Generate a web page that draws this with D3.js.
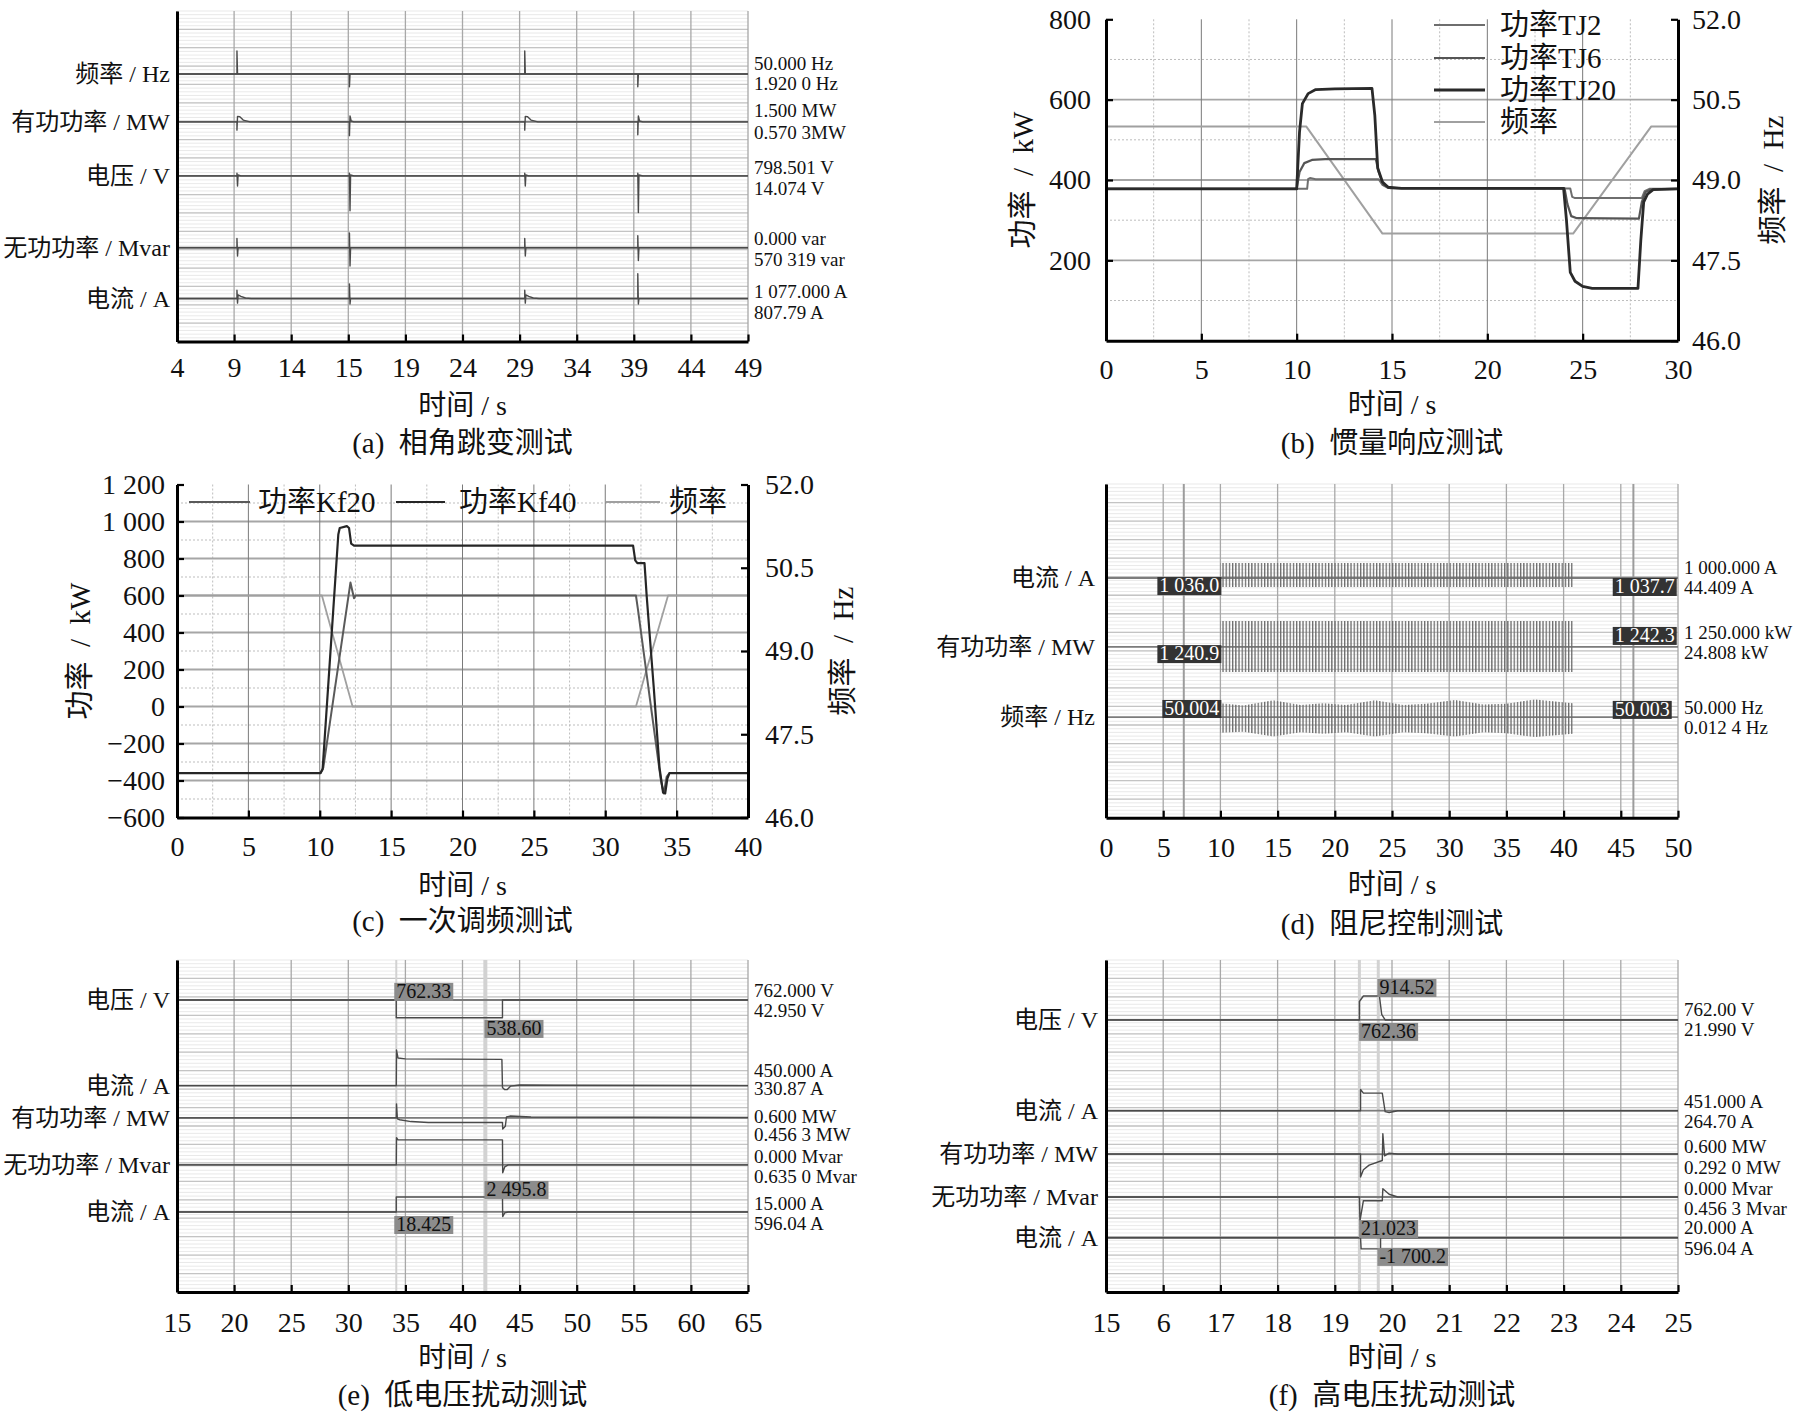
<!DOCTYPE html>
<html>
<head>
<meta charset="utf-8">
<script src="https://cdn.jsdelivr.net/npm/d3@7"></script>
<style>
body { margin: 0; background: #fff; }
svg { display: block; font-family: "Liberation Serif", "Noto Sans CJK SC", serif; }
</style>
</head>
<body>
<svg id="chart" width="1800" height="1413"></svg>
<script>
/* ---------- (a) 相角跳变测试 ---------- */
var aTickLabels = ["4", "9", "14", "15", "19", "24", "29", "34", "39", "44", "49"];
var aChannels = ["频率 / Hz", "有功功率 / MW", "电压 / V", "无功功率 / Mvar", "电流 / A"];
var aOffsets = [14.57, 11.96, 9.02, 5.11, 2.34];   // channel zero, in divisions
var aScales = [["50.000 Hz", "1.920 0 Hz"], ["1.500 MW", "0.570 3MW"], ["798.501 V", "14.074 V"],
               ["0.000 var", "570 319 var"], ["1 077.000 A", "807.79 A"]];
var aFreq = [[4,0],[9.25,0],[9.25,1.25],[9.3,0],[19.1,0],[19.1,-0.7],[19.15,0],[34.45,0],[34.45,1.25],[34.5,0],
             [44.35,0],[44.35,-0.7],[44.4,0],[54,0]];
var aPower = [[4,0],[9.25,0],[9.25,-0.45],[9.3,0.3],[9.5,0.28],[9.8,0.1],[10.4,0],[19.1,0],[19.1,-0.75],[19.15,0.33],
              [19.25,0.05],[19.5,0],[34.45,0],[34.45,-0.45],[34.5,0.3],[34.7,0.28],[35,0.1],[35.6,0],[44.35,0],
              [44.35,-0.7],[44.4,0.33],[44.5,0.05],[44.8,0],[54,0]];
var aVolt = [[4,0],[9.25,0],[9.25,0.15],[9.3,-0.55],[9.35,0.05],[9.6,0],[19.1,0],[19.1,0.15],[19.15,-1.9],[19.2,0.05],
             [19.5,0],[34.45,0],[34.45,0.15],[34.5,-0.55],[34.55,0.05],[34.8,0],[44.35,0],[44.35,0.15],[44.4,-2.0],
             [44.45,0.05],[44.8,0],[54,0]];
var aReact = [[4,0],[9.25,0],[9.25,0.5],[9.3,-0.45],[9.35,0],[19.1,0],[19.1,0.8],[19.15,-1.0],[19.2,0],[34.45,0],
              [34.45,0.5],[34.5,-0.45],[34.55,0],[44.35,0],[44.35,0.65],[44.4,-0.7],[44.45,0],[54,0]];
var aCurr = [[4,0],[9.25,0],[9.25,0.45],[9.3,-0.25],[9.35,0.2],[9.6,0.12],[10,0.03],[10.5,0],[19.1,0],[19.1,0.8],
             [19.15,-0.3],[19.2,0],[34.45,0],[34.45,0.45],[34.5,-0.25],[34.55,0.2],[34.8,0.12],[35.2,0.03],[35.7,0],
             [44.35,0],[44.35,1.35],[44.4,-0.3],[44.45,0],[54,0]];

/* ---------- (b) 惯量响应测试 ---------- */
var bTickLabels = ["0", "5", "10", "15", "20", "25", "30"];
var bPowerTicks = [200, 400, 600, 800];
var bFreqTicks = [46, 47.5, 49, 50.5, 52];
var bFreqLabels = ["46.0", "47.5", "49.0", "50.5", "52.0"];
var bNames = ["功率TJ2", "功率TJ6", "功率TJ20", "频率"];
var bTJ2 = [[0,378],[10.55,378],[10.6,402],[10.7,405],[11,402],[14.3,402],[14.5,388],[14.8,380],[24.35,379],
            [24.45,358],[24.6,355],[28.1,355],[28.25,372],[28.5,378],[30,378]];
var bTJ6 = [[0,378],[10.0,378],[10.15,420],[10.4,442],[10.8,450],[11.5,452],[14.15,452],[14.3,420],[14.55,388],
            [14.9,380],[24.05,379],[24.2,340],[24.4,310],[24.7,305],[27.95,304],[28.1,345],[28.3,370],[28.6,377],[30,378]];
var bTJ20 = [[0,378],[10.0,378],[10.15,520],[10.3,590],[10.6,615],[11.0,625],[12,627],[13.95,628],[14.1,560],
             [14.25,430],[14.5,395],[14.8,382],[15.5,379],[24.0,379],[24.15,300],[24.35,170],[24.6,148],[25.0,135],
             [25.5,130],[27.9,130],[28.05,250],[28.2,345],[28.4,365],[28.7,376],[30,378]];
var bFreq = [[0,50.0],[10.5,50.0],[14.5,48.0],[24.5,48.0],[28.6,50.0],[30,50.0]];

/* ---------- (c) 一次调频测试 ---------- */
var cTickLabels = ["0", "5", "10", "15", "20", "25", "30", "35", "40"];
var cPowerTicks = [-600, -400, -200, 0, 200, 400, 600, 800, 1000, 1200];
var cPowerLabels = ["\u2212600", "\u2212400", "\u2212200", "0", "200", "400", "600", "800", "1 000", "1 200"];
var cFreqTicks = [46, 47.5, 49, 50.5, 52];
var cFreqLabels = ["46.0", "47.5", "49.0", "50.5", "52.0"];
var cNames = ["功率Kf20", "功率Kf40", "频率"];
var cKf20 = [[0,-360],[10.05,-360],[10.25,-330],[12.15,670],[12.4,585],[12.5,600],[32.15,600],[32.3,520],[33.2,0],
             [33.9,-400],[34.1,-470],[34.3,-380],[34.5,-360],[40,-360]];
var cKf40 = [[0,-360],[10.05,-360],[10.2,-340],[11.3,930],[11.4,965],[11.9,975],[12.05,965],[12.2,880],[12.4,870],
             [31.95,870],[32.1,790],[32.25,775],[32.75,775],[32.9,600],[33.4,100],[33.8,-330],[34.05,-465],
             [34.2,-470],[34.35,-390],[34.5,-360],[40,-360]];
var cFreq = [[0,50],[10.15,50],[12.3,48],[32.15,48],[34.4,50],[40,50]];

/* ---------- (d) 阻尼控制测试 ---------- */
var dTickLabels = ["0", "5", "10", "15", "20", "25", "30", "35", "40", "45", "50"];
var dChannels = ["电流 / A", "有功功率 / MW", "频率 / Hz"];
var dOffsets = [12.93, 9.21, 5.43];
var dScales = [["1 000.000 A", "44.409 A"], ["1 250.000 kW", "24.808 kW"], ["50.000 Hz", "0.012 4 Hz"]];
// oscillation envelopes: [t, upper, lower] in divisions around the channel zero
var dCurrBand = [[10.0,0.81,-0.49],[40.8,0.81,-0.49]];
var dPowerBand = [[10.0,1.4,-1.35],[40.8,1.4,-1.35]];
var dFreqBand = [[10.0,0.75,-0.85],[12.0,0.62,-0.8],[14.6,0.9,-1.05],[17.0,0.65,-0.82],[19.0,0.75,-0.9],
                 [21.0,0.65,-0.82],[23.5,0.9,-1.05],[26.0,0.65,-0.82],[28.0,0.72,-0.88],[30.5,0.92,-1.05],
                 [33.0,0.68,-0.82],[35.0,0.72,-0.88],[37.5,0.95,-1.08],[40.8,0.75,-0.9]];
var dCursors = [6.8, 46.1];
var dMarkers = [["1 036.0", 9.91, 12.98, "end"], ["1 037.7", 44.47, 12.93, "start"],
                ["1 240.9", 9.91, 9.31, "end"], ["1 242.3", 44.47, 10.29, "start"],
                ["50.004", 9.91, 6.35, "end"], ["50.003", 44.47, 6.3, "start"]];

/* ---------- (e) 低电压扰动测试 ---------- */
var eTickLabels = ["15", "20", "25", "30", "35", "40", "45", "50", "55", "60", "65"];
var eChannels = ["电压 / V", "电流 / A", "有功功率 / MW", "无功功率 / Mvar", "电流 / A"];
var eOffsets = [15.83, 11.19, 9.44, 6.89, 4.34];
var eScales = [["762.000 V", "42.950 V"], ["450.000 A", "330.87 A"], ["0.600 MW", "0.456 3 MW"],
               ["0.000 Mvar", "0.635 0 Mvar"], ["15.000 A", "596.04 A"]];
var eVolt = [[15,0],[34.2,0],[34.2,-0.96],[43.5,-0.96],[43.5,0],[65,0]];
var eCurr = [[15,0],[34.2,0],[34.22,1.93],[34.35,1.5],[35,1.45],[43.45,1.42],[43.5,-0.1],[43.7,-0.22],[43.9,-0.22],
             [44.2,-0.03],[45,0.03],[48,0.02],[65,0]];
var ePower = [[15,0],[34.2,0],[34.22,0.76],[34.3,-0.05],[34.5,-0.1],[35.5,-0.2],[37,-0.25],[43.5,-0.25],[43.52,-0.6],
              [43.75,-0.45],[43.85,0.05],[44.2,0.1],[46,0.05],[65,0.02]];
var eReact = [[15,0],[34.2,0],[34.22,1.48],[34.35,1.36],[43.5,1.36],[43.52,-0.43],[43.7,-0.1],[44,0],[65,0]];
var eCurr2 = [[15,0],[34.2,0],[34.2,0.81],[43.5,0.81],[43.52,-0.25],[43.7,-0.05],[44,0],[65,0]];
var eCursors = [34.2, 42.0];
var eMarkers = [["762.33", 34.2, 16.76, "start"], ["538.60", 42.1, 14.75, "start"],
                ["2 495.8", 42.1, 6.02, "start"], ["18.425", 34.2, 4.12, "start"]];

/* ---------- (f) 高电压扰动测试 ---------- */
var fTickLabels = ["15", "6", "17", "18", "19", "20", "21", "22", "23", "24", "25"];
var fChannels = ["电压 / V", "电流 / A", "有功功率 / MW", "无功功率 / Mvar", "电流 / A"];
var fOffsets = [14.75, 9.83, 7.48, 5.15, 2.94];
var fScales = [["762.00 V", "21.990 V"], ["451.000 A", "264.70 A"], ["0.600 MW", "0.292 0 MW"],
               ["0.000 Mvar", "0.456 3 Mvar"], ["20.000 A", "596.04 A"]];
var fVolt = [[15,0],[19.43,0],[19.43,1.0],[19.5,1.3],[19.78,1.3],[19.82,0.3],[19.88,0],[25,0]];
var fCurr = [[15,0],[19.45,0],[19.45,1.15],[19.5,0.95],[19.83,0.95],[19.88,-0.05],[19.95,-0.1],[20.1,0],[25,0]];
var fPower = [[15,0],[19.45,0],[19.45,-1.25],[19.5,-0.85],[19.6,-0.6],[19.83,-0.35],[19.84,1.1],[19.87,-0.1],
              [19.95,0.05],[20.1,0],[25,0]];
var fReact = [[15,0],[19.43,0],[19.44,-1.3],[19.5,-0.2],[19.83,-0.2],[19.84,0.45],[19.95,0.15],[20.1,0],[25,0]];
var fCurr2 = [[15,0],[19.45,0],[19.46,-0.6],[19.8,-0.6],[19.8,0],[25,0]];
var fCursors = [19.43, 19.76];
var fMarkers = [["914.52", 19.78, 16.97, "start"], ["762.36", 19.46, 14.59, "start"],
                ["21.023", 19.46, 3.9, "start"], ["-1 700.2", 19.78, 2.39, "start"]];

var svg = d3.select("#chart");
var defs = svg.append("defs");
var pat = defs.append("pattern").attr("id", "osc").attr("patternUnits", "userSpaceOnUse")
    .attr("width", 3.2).attr("height", 10);
pat.append("rect").attr("width", 1.3).attr("height", 10).attr("fill", "#6a6a6a");

function styleAxis(ax, size) {
  ax.attr("font-size", null).attr("font-family", null);
  ax.select(".domain").attr("stroke", "#000").attr("stroke-width", 3);
  ax.selectAll(".tick line").attr("stroke", "#000").attr("stroke-width", 2.2);
  ax.selectAll(".tick text").attr("font-size", size).attr("fill", "#111");
}

function bottomText(cfg) {
  var cx = (cfg.left + cfg.right) / 2;
  svg.append("text").attr("x", cx).attr("y", cfg.bottom + cfg.xlabelDy).attr("text-anchor", "middle")
    .attr("dominant-baseline", "central").attr("font-size", 28).attr("fill", "#111").text("时间 / s");
  svg.append("text").attr("x", cx).attr("y", cfg.bottom + cfg.captionDy).attr("text-anchor", "middle")
    .attr("dominant-baseline", "central").attr("font-size", 29).attr("fill", "#111")
    .attr("xml:space", "preserve").text(cfg.caption);
}

// oscilloscope-style panel: stacked channels on a division grid
function scope(cfg) {
  var g = svg.append("g");
  var x = d3.scaleLinear().domain(cfg.xDomain).range([cfg.left, cfg.right]);
  var y = d3.scaleLinear().domain([0, 18]).range([cfg.bottom, cfg.top]);

  g.selectAll(null).data(d3.range(0, 90.5).map(function(i) { return i * 0.2; })).join("line")
    .attr("x1", cfg.left).attr("x2", cfg.right).attr("y1", y).attr("y2", y)
    .attr("stroke", "#e3e3e3").attr("stroke-width", 0.8);
  g.selectAll(null).data(d3.range(1, 18)).join("line")
    .attr("x1", cfg.left).attr("x2", cfg.right).attr("y1", y).attr("y2", y)
    .attr("stroke", "#c4c4c4").attr("stroke-width", 1.3);
  g.selectAll(null).data(cfg.ticks).join("line")
    .attr("x1", x).attr("x2", x).attr("y1", cfg.top).attr("y2", cfg.bottom)
    .attr("stroke", "#a8a8a8").attr("stroke-width", 1.3);

  g.selectAll(null).data(cfg.cursors).join("line")
    .attr("x1", x).attr("x2", x).attr("y1", cfg.top).attr("y2", cfg.bottom)
    .attr("stroke", cfg.cursorColor).attr("stroke-width", function(d, i) { return cfg.cursorWidth[i]; });

  g.selectAll(null).data(cfg.offsets).join("line")
    .attr("x1", cfg.left).attr("x2", cfg.right).attr("y1", y).attr("y2", y)
    .attr("stroke", "#7c7c7c").attr("stroke-width", 1.8);

  (cfg.bands || []).forEach(function(b) {
    var off = cfg.offsets[b.ch];
    g.append("path").datum(b.data).attr("fill", "url(#osc)")
      .attr("d", d3.area().x(function(d) { return x(d[0]); })
        .y0(function(d) { return y(off + d[2]); }).y1(function(d) { return y(off + d[1]); }));
  });

  (cfg.traces || []).forEach(function(tr, i) {
    var off = cfg.offsets[i];
    g.append("path").datum(tr).attr("fill", "none").attr("stroke", "#4a4a4a").attr("stroke-width", 1.4)
      .attr("stroke-linejoin", "round")
      .attr("d", d3.line().x(function(d) { return x(d[0]); }).y(function(d) { return y(off + d[1]); }));
  });

  (cfg.markers || []).forEach(function(m) {
    var top = y(m[2]);
    var t = g.append("text").attr("x", x(m[1])).attr("y", top + 15).attr("text-anchor", m[3])
      .attr("font-size", 20).attr("fill", cfg.markerText).attr("xml:space", "preserve").text(m[0]);
    var w = t.node().getComputedTextLength();
    var x0 = m[3] === "end" ? x(m[1]) - w - 2 : x(m[1]) - 2;
    g.insert("rect", function() { return t.node(); }).attr("x", x0).attr("y", top)
      .attr("width", w + 4).attr("height", 18).attr("fill", cfg.markerFill);
  });

  var ax = g.append("g").attr("transform", "translate(0," + cfg.bottom + ")")
    .call(d3.axisBottom(x).tickValues(cfg.ticks).tickFormat(function(d, i) { return cfg.tickLabels[i]; })
      .tickSizeInner(-7).tickSizeOuter(0).tickPadding(cfg.tickPad));
  styleAxis(ax, 28);
  var ay = g.append("g").attr("transform", "translate(" + cfg.left + ",0)")
    .call(d3.axisLeft(y).tickValues([]).tickSizeOuter(0));
  styleAxis(ay, 28);

  g.selectAll(null).data(cfg.channels).join("text")
    .attr("x", cfg.left - cfg.labelGap).attr("y", function(d, i) { return y(cfg.offsets[i]); })
    .attr("text-anchor", "end").attr("dominant-baseline", "central").attr("font-size", 24).attr("fill", "#111")
    .text(function(d) { return d; });
  cfg.scales.forEach(function(s, i) {
    var yy = y(cfg.offsets[i]), dy = cfg.scaleDy[i];
    g.append("text").attr("x", cfg.right + 6).attr("y", yy + dy[0]).attr("dominant-baseline", "central")
      .attr("font-size", 19).attr("fill", "#111").text(s[0]);
    g.append("text").attr("x", cfg.right + 6).attr("y", yy + dy[1]).attr("dominant-baseline", "central")
      .attr("font-size", 19).attr("fill", "#111").text(s[1]);
  });
  bottomText(cfg);
}

// dual-axis line chart
function dual(cfg) {
  var g = svg.append("g");
  var x = d3.scaleLinear().domain(cfg.xDomain).range([cfg.left, cfg.right]);
  var yL = d3.scaleLinear().domain(cfg.yLDomain).range([cfg.bottom, cfg.top]);
  var yR = d3.scaleLinear().domain(cfg.yRDomain).range([cfg.bottom, cfg.top]);

  g.selectAll(null).data(cfg.yDotted).join("line")
    .attr("x1", cfg.left).attr("x2", cfg.right).attr("y1", yL).attr("y2", yL)
    .attr("stroke", "#bdbdbd").attr("stroke-width", 1).attr("stroke-dasharray", "2,2");
  g.selectAll(null).data(cfg.xDotted).join("line")
    .attr("x1", x).attr("x2", x).attr("y1", cfg.top).attr("y2", cfg.bottom)
    .attr("stroke", "#bdbdbd").attr("stroke-width", 1).attr("stroke-dasharray", "2,2");
  g.selectAll(null).data(cfg.ySolid).join("line")
    .attr("x1", cfg.left).attr("x2", cfg.right).attr("y1", yL).attr("y2", yL)
    .attr("stroke", "#a6a6a6").attr("stroke-width", 1.8);
  g.selectAll(null).data(cfg.xSolid).join("line")
    .attr("x1", x).attr("x2", x).attr("y1", cfg.top).attr("y2", cfg.bottom)
    .attr("stroke", "#7a7a7a").attr("stroke-width", 1);

  cfg.series.forEach(function(s) {
    var sc = s.right ? yR : yL;
    g.append("path").datum(s.data).attr("fill", "none").attr("stroke", s.color).attr("stroke-width", s.width)
      .attr("stroke-linejoin", "round")
      .attr("d", d3.line().x(function(d) { return x(d[0]); }).y(function(d) { return sc(d[1]); }));
  });

  var ax = g.append("g").attr("transform", "translate(0," + cfg.bottom + ")")
    .call(d3.axisBottom(x).tickValues(cfg.xTicks).tickFormat(function(d, i) { return cfg.xLabels[i]; })
      .tickSizeInner(-7).tickSizeOuter(0).tickPadding(cfg.tickPad));
  styleAxis(ax, 28);
  var al = g.append("g").attr("transform", "translate(" + cfg.left + ",0)")
    .call(d3.axisLeft(yL).tickValues(cfg.yLTicks).tickFormat(function(d, i) { return cfg.yLLabels[i]; })
      .tickSizeInner(-7).tickSizeOuter(0).tickPadding(cfg.yLPad));
  styleAxis(al, 28);
  var ar = g.append("g").attr("transform", "translate(" + cfg.right + ",0)")
    .call(d3.axisRight(yR).tickValues(cfg.yRTicks).tickFormat(function(d, i) { return cfg.yRLabels[i]; })
      .tickSizeInner(-7).tickSizeOuter(0).tickPadding(cfg.yRPad));
  styleAxis(ar, 28);

  var cy = (cfg.top + cfg.bottom) / 2;
  g.append("text").attr("transform", "translate(" + cfg.yLTitleX + "," + cy + ") rotate(-90)")
    .attr("text-anchor", "middle").attr("dominant-baseline", "central").attr("font-size", 29)
    .attr("fill", "#111").attr("xml:space", "preserve").text("功率  /  kW");
  g.append("text").attr("transform", "translate(" + cfg.yRTitleX + "," + cy + ") rotate(-90)")
    .attr("text-anchor", "middle").attr("dominant-baseline", "central").attr("font-size", 29)
    .attr("fill", "#111").attr("xml:space", "preserve").text("频率  /  Hz");

  cfg.legend.forEach(function(l) {
    g.append("line").attr("x1", l.x1).attr("x2", l.x2).attr("y1", l.y).attr("y2", l.y)
      .attr("stroke", l.s.color).attr("stroke-width", l.s.width);
    g.append("text").attr("x", l.tx).attr("y", l.y).attr("dominant-baseline", "central")
      .attr("font-size", 29).attr("fill", "#111").text(l.s.name);
  });
  bottomText(cfg);
}

var LEFT = [177, 748], RIGHT = [1106, 1678];

scope({
  left: LEFT[0], right: LEFT[1], top: 11, bottom: 341.5, xDomain: [4, 54],
  ticks: d3.range(4, 55, 5), tickLabels: aTickLabels, tickPad: 16,
  channels: aChannels, offsets: aOffsets, scales: aScales, labelGap: 7,
  scaleDy: [[-10, 10], [-11, 11], [-8, 13], [-9, 12], [-7, 14]],
  traces: [aFreq, aPower, aVolt, aReact, aCurr], cursors: [], cursorWidth: [], cursorColor: "#ccc",
  xlabelDy: 64, captionDy: 101, caption: "(a)  相角跳变测试"
});

var bSeries = [
  { name: bNames[0], data: bTJ2, color: "#6e6e6e", width: 2 },
  { name: bNames[1], data: bTJ6, color: "#555555", width: 2.2 },
  { name: bNames[2], data: bTJ20, color: "#2a2a2a", width: 2.8 },
  { name: bNames[3], data: bFreq, color: "#a0a0a0", width: 2, right: true }
];
dual({
  left: RIGHT[0], right: RIGHT[1], top: 19.3, bottom: 340.7,
  xDomain: [0, 30], yLDomain: [0, 800], yRDomain: [46, 52],
  xTicks: d3.range(0, 31, 5), xLabels: bTickLabels, tickPad: 18,
  yLTicks: bPowerTicks, yLLabels: bPowerTicks.map(String), yLPad: 15,
  yRTicks: bFreqTicks, yRLabels: bFreqLabels, yRPad: 14,
  ySolid: [200, 400, 600], yDotted: [100, 300, 500, 700],
  xSolid: [5, 10, 15, 20, 25], xDotted: [2.5, 7.5, 12.5, 17.5, 22.5, 27.5],
  series: [bSeries[3], bSeries[0], bSeries[1], bSeries[2]],
  yLTitleX: 1023, yRTitleX: 1773,
  legend: [
    { s: bSeries[0], x1: 1434, x2: 1485, tx: 1500, y: 25 },
    { s: bSeries[1], x1: 1434, x2: 1485, tx: 1500, y: 58 },
    { s: bSeries[2], x1: 1434, x2: 1485, tx: 1500, y: 90 },
    { s: bSeries[3], x1: 1434, x2: 1485, tx: 1500, y: 122 }
  ],
  xlabelDy: 64, captionDy: 102, caption: "(b)  惯量响应测试"
});

var cSeries = [
  { name: cNames[0], data: cKf20, color: "#5a5a5a", width: 2 },
  { name: cNames[1], data: cKf40, color: "#262626", width: 2.2 },
  { name: cNames[2], data: cFreq, color: "#a0a0a0", width: 1.8, right: true }
];
dual({
  left: LEFT[0], right: LEFT[1], top: 484.5, bottom: 817.5,
  xDomain: [0, 40], yLDomain: [-600, 1200], yRDomain: [46, 52],
  xTicks: d3.range(0, 41, 5), xLabels: cTickLabels, tickPad: 19,
  yLTicks: cPowerTicks, yLLabels: cPowerLabels, yLPad: 12,
  yRTicks: cFreqTicks, yRLabels: cFreqLabels, yRPad: 17,
  ySolid: [-400, -200, 0, 200, 400, 600, 800, 1000], yDotted: [-500, -300, -100, 100, 300, 500, 700, 900, 1100],
  xSolid: [5, 10, 15, 20, 25, 30, 35], xDotted: [2.5, 7.5, 12.5, 17.5, 22.5, 27.5, 32.5, 37.5],
  series: [cSeries[2], cSeries[0], cSeries[1]],
  yLTitleX: 80, yRTitleX: 843,
  legend: [
    { s: cSeries[0], x1: 189, x2: 250, tx: 258, y: 502 },
    { s: cSeries[1], x1: 396, x2: 445, tx: 459, y: 502 },
    { s: cSeries[2], x1: 606, x2: 660, tx: 669, y: 502 }
  ],
  xlabelDy: 68, captionDy: 103, caption: "(c)  一次调频测试"
});

scope({
  left: RIGHT[0], right: RIGHT[1], top: 484, bottom: 817.7, xDomain: [0, 50],
  ticks: d3.range(0, 51, 5), tickLabels: dTickLabels, tickPad: 19,
  channels: dChannels, offsets: dOffsets, scales: dScales, labelGap: 11,
  scaleDy: [[-10, 10], [-14, 6], [-10, 10]],
  bands: [{ ch: 0, data: dCurrBand }, { ch: 1, data: dPowerBand }, { ch: 2, data: dFreqBand }],
  cursors: dCursors, cursorWidth: [2, 2], cursorColor: "#9c9c9c",
  markers: dMarkers, markerFill: "#333", markerText: "#fff",
  xlabelDy: 67, captionDy: 106, caption: "(d)  阻尼控制测试"
});

scope({
  left: LEFT[0], right: LEFT[1], top: 960, bottom: 1292, xDomain: [15, 65],
  ticks: d3.range(15, 66, 5), tickLabels: eTickLabels, tickPad: 20,
  channels: eChannels, offsets: eOffsets, scales: eScales, labelGap: 7,
  scaleDy: [[-10, 10], [-15, 3], [-1, 17], [-8, 12], [-8, 12]],
  traces: [eVolt, eCurr, ePower, eReact, eCurr2],
  cursors: eCursors, cursorWidth: [2, 4], cursorColor: "#d2d2d2",
  markers: eMarkers, markerFill: "#8c8c8c", markerText: "#111",
  xlabelDy: 65, captionDy: 103, caption: "(e)  低电压扰动测试"
});

scope({
  left: RIGHT[0], right: RIGHT[1], top: 960, bottom: 1292, xDomain: [15, 25],
  ticks: d3.range(15, 26, 1), tickLabels: fTickLabels, tickPad: 20,
  channels: fChannels, offsets: fOffsets, scales: fScales, labelGap: 8,
  scaleDy: [[-10, 10], [-9, 11], [-8, 13], [-9, 11], [-10, 11]],
  traces: [fVolt, fCurr, fPower, fReact, fCurr2],
  cursors: fCursors, cursorWidth: [3, 3], cursorColor: "#d2d2d2",
  markers: fMarkers, markerFill: "#8c8c8c", markerText: "#111",
  xlabelDy: 65, captionDy: 103, caption: "(f)  高电压扰动测试"
});
</script>
</body>
</html>
